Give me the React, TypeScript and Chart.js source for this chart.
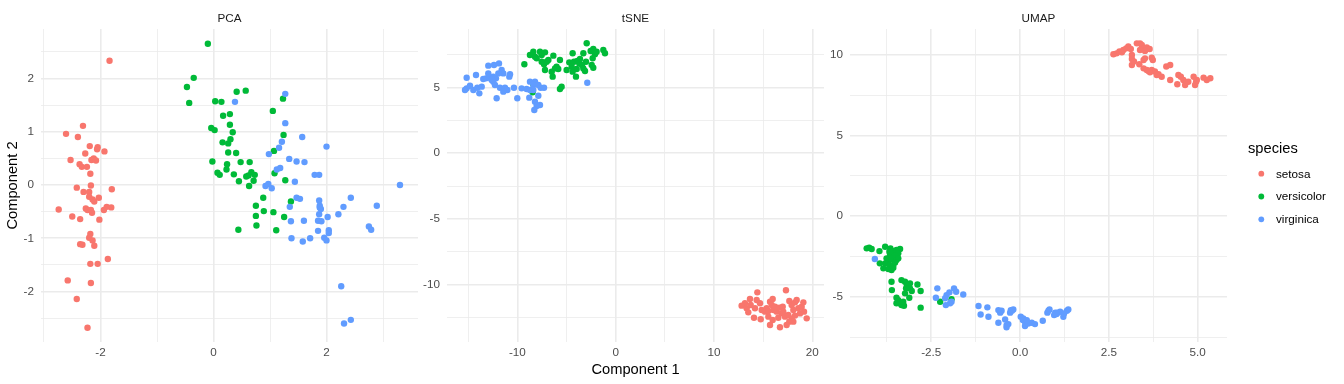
import React, { useEffect, useRef } from "react";
import { Chart, registerables } from "chart.js";

Chart.register(...registerables);

// ---------------- data ----------------
const SPECIES = ["setosa", "versicolor", "virginica"];
const SPECIES_COLORS = ["#F8766D", "#00BA38", "#619CFF"];
const FACETS = ["PCA", "tSNE", "UMAP"];
const X_TITLE = "Component 1";
const Y_TITLE = "Component 2";
const LEGEND_TITLE = "species";

const PCA_SETOSA: [number, number][] = [
  [-1.84, 2.33], [-2.31, 1.11], [-2.61, 0.96], [-2.40, 0.90], [-2.19, 0.73], [-2.05, 0.71], [-2.06, 0.67],
  [-1.93, 0.63], [-2.27, 0.59], [-2.53, 0.47], [-2.16, 0.47], [-2.12, 0.50], [-2.08, 0.46], [-2.37, 0.39],
  [-2.33, 0.34], [-2.24, 0.34], [-2.18, 0.21], [-2.17, -0.01], [-2.42, -0.05], [-2.30, -0.13], [-2.20, -0.13],
  [-1.80, -0.08], [-2.20, -0.22], [-2.14, -0.27], [-2.11, -0.31], [-2.03, -0.24], [-2.74, -0.46], [-2.26, -0.44],
  [-2.23, -0.47], [-2.17, -0.47], [-2.15, -0.52], [-1.94, -0.47], [-1.89, -0.41], [-1.81, -0.42], [-2.50, -0.59],
  [-2.36, -0.64], [-2.02, -0.65], [-2.18, -0.92], [-2.20, -0.99], [-2.14, -1.04], [-2.36, -1.11], [-2.32, -1.12],
  [-2.11, -1.14], [-1.87, -1.39], [-2.18, -1.48], [-2.05, -1.48], [-2.58, -1.79], [-2.17, -1.84], [-2.42, -2.14],
  [-2.23, -2.68],
];
const PCA_VERSICOLOR: [number, number][] = [
  [-0.10, 2.65], [-0.35, 2.01], [-0.47, 1.84], [-0.43, 1.54], [0.41, 1.75], [0.57, 1.77], [0.03, 1.57],
  [0.14, 1.56], [1.23, 1.62], [1.05, 1.39], [0.17, 1.30], [0.29, 1.33], [0.29, 1.13], [-0.04, 1.07],
  [0.02, 1.03], [0.34, 0.99], [1.24, 0.94], [0.16, 0.80], [0.26, 0.78], [0.30, 0.86], [0.26, 0.61],
  [0.40, 0.60], [1.07, 0.64], [-0.02, 0.44], [0.24, 0.39], [0.48, 0.43], [0.64, 0.43], [0.23, 0.29],
  [0.07, 0.23], [0.11, 0.19], [0.36, 0.20], [0.67, 0.24], [0.73, 0.19], [0.58, 0.16], [1.08, 0.22],
  [0.45, 0.07], [0.71, 0.08], [0.63, -0.02], [1.27, 0.09], [0.88, -0.24], [1.37, -0.31], [0.75, -0.39],
  [0.89, -0.49], [1.06, -0.51], [0.75, -0.58], [1.25, -0.60], [0.76, -0.76], [0.44, -0.84], [1.11, -0.85],
  [0.62, 0.18],
];
const PCA_VIRGINICA: [number, number][] = [
  [0.38, 1.56], [1.27, 1.71], [1.27, 1.16], [1.57, 0.90], [1.21, 0.81], [1.16, 0.70], [0.98, 0.58],
  [2.00, 0.72], [1.34, 0.49], [1.47, 0.44], [1.61, 0.43], [1.12, 0.29], [1.18, 0.32], [1.79, 0.19],
  [1.87, 0.19], [1.44, 0.06], [0.92, -0.02], [0.97, 0.02], [1.03, -0.06], [3.30, 0.00], [1.47, -0.24],
  [1.53, -0.26], [1.35, -0.41], [1.87, -0.29], [1.88, -0.39], [1.88, -0.42], [2.43, -0.24], [2.30, -0.41],
  [2.89, -0.39], [1.87, -0.55], [2.02, -0.60], [2.21, -0.55], [1.37, -0.68], [1.60, -0.67], [1.85, -0.67],
  [1.91, -0.68], [1.85, -0.86], [2.04, -0.85], [2.04, -0.90], [2.75, -0.78], [2.79, -0.84], [1.38, -1.00],
  [1.58, -1.06], [1.71, -1.00], [1.96, -0.99], [2.00, -1.04], [2.26, -1.90], [2.31, -2.60], [2.43, -2.53],
  [1.90, -0.45],
];

const TSNE_SETOSA: [number, number][] = [
  [14.41, -10.60], [17.32, -10.44], [13.66, -11.10], [13.15, -11.43], [12.81, -11.61], [13.32, -11.81],
  [13.49, -12.12], [14.17, -11.81], [14.34, -11.18], [14.68, -11.43], [14.85, -11.94], [15.36, -11.81],
  [15.70, -11.31], [15.97, -11.10], [15.87, -11.56], [16.04, -11.94], [16.38, -12.07], [16.65, -11.76],
  [16.99, -11.69], [16.88, -12.20], [17.22, -12.45], [17.66, -11.26], [17.90, -11.56], [18.24, -11.36],
  [18.41, -11.18], [18.58, -11.81], [18.92, -11.69], [19.09, -11.36], [19.16, -12.07], [18.75, -12.20],
  [18.24, -12.37], [17.90, -12.58], [17.66, -12.83], [17.39, -13.08], [18.07, -12.83], [17.56, -12.32],
  [14.07, -12.53], [14.75, -12.65], [15.53, -12.45], [15.97, -12.70], [15.70, -13.08], [16.71, -13.26],
  [19.43, -12.58], [16.54, -12.53], [15.19, -12.07], [16.21, -11.69], [17.05, -12.07], [15.53, -12.02],
  [13.73, -11.56], [18.07, -11.94],
];
const TSNE_VERSICOLOR: [number, number][] = [
  [-9.29, 6.77], [-8.72, 7.48], [-8.38, 7.73], [-8.21, 7.35], [-7.70, 7.73], [-7.53, 7.48], [-7.19, 7.68],
  [-7.02, 6.97], [-7.29, 6.77], [-6.85, 7.10], [-6.34, 7.43], [-6.01, 6.59], [-5.67, 7.10], [-6.17, 6.46],
  [-5.84, 6.41], [-6.41, 5.83], [-7.19, 6.34], [-5.50, 5.07], [-5.67, 4.89], [-8.38, 5.25], [-8.45, 4.64],
  [-4.38, 7.61], [-4.72, 6.92], [-4.24, 6.97], [-3.90, 7.02], [-3.63, 7.17], [-3.29, 7.61], [-2.95, 8.37],
  [-2.55, 7.78], [-2.28, 7.94], [-2.11, 7.53], [-2.34, 7.23], [-2.44, 6.72], [-2.28, 6.51], [-3.02, 6.97],
  [-3.43, 6.72], [-3.97, 6.41], [-4.38, 6.21], [-4.04, 5.83], [-3.12, 6.26], [-1.26, 7.86], [-1.09, 7.61],
  [-1.94, 7.73], [-3.29, 6.46], [-3.70, 6.84], [-4.99, 6.34], [-4.48, 6.59], [-8.04, 7.23], [-7.53, 6.97],
  [-6.51, 6.21],
];
const TSNE_VIRGINICA: [number, number][] = [
  [-15.16, 5.75], [-14.21, 5.96], [-12.96, 6.67], [-12.38, 6.72], [-11.87, 6.84], [-11.60, 6.34],
  [-11.43, 6.08], [-13.19, 5.70], [-12.79, 5.75], [-12.45, 5.83], [-12.18, 5.70], [-10.82, 5.83],
  [-10.75, 6.01], [-15.16, 4.94], [-15.33, 4.81], [-14.82, 5.14], [-14.48, 4.81], [-14.08, 4.99],
  [-13.63, 5.07], [-13.87, 4.56], [-12.45, 5.45], [-12.28, 5.19], [-11.77, 4.99], [-11.26, 4.99],
  [-11.02, 4.81], [-11.43, 4.69], [-10.35, 4.99], [-12.11, 4.18], [-10.01, 4.18], [-12.96, 6.08],
  [-12.62, 5.57], [-13.47, 5.65], [-11.94, 6.08], [-8.72, 5.45], [-8.21, 5.45], [-8.38, 5.19],
  [-7.87, 5.19], [-7.63, 4.99], [-7.29, 4.99], [-9.06, 4.89], [-8.72, 4.81], [-8.38, 4.81],
  [-8.79, 4.23], [-7.87, 4.38], [-8.21, 3.92], [-7.70, 3.67], [-8.04, 3.59], [-8.28, 3.29],
  [-9.57, 4.94], [-2.89, 5.37],
];

const UMAP_SETOSA: [number, number][] = [
  [2.72, 10.10], [2.80, 10.21], [2.87, 10.17], [2.91, 10.31], [2.99, 10.41], [3.05, 10.52], [3.12, 10.37],
  [3.29, 10.72], [3.38, 10.72], [3.43, 10.62], [3.48, 10.41], [3.57, 10.46], [3.65, 10.37], [3.38, 10.31],
  [3.52, 10.25], [3.15, 10.00], [3.15, 9.75], [3.15, 9.38], [3.48, 9.69], [3.52, 9.79], [3.71, 9.83],
  [3.74, 9.69], [3.36, 9.42], [3.48, 9.17], [3.57, 9.07], [3.62, 9.01], [3.71, 9.07], [3.80, 8.97],
  [3.90, 8.80], [3.99, 8.65], [4.12, 9.28], [4.23, 9.38], [4.23, 8.45], [4.46, 8.76], [4.53, 8.65],
  [4.43, 8.18], [4.60, 8.45], [4.65, 8.14], [4.74, 8.34], [4.89, 8.65], [4.96, 8.34], [4.93, 8.14],
  [4.98, 8.45], [5.17, 8.59], [5.26, 8.45], [5.36, 8.55], [3.85, 8.76], [3.66, 8.92], [2.63, 10.04],
  [3.21, 9.59],
];
const UMAP_VERSICOLOR: [number, number][] = [
  [-4.32, -2.00], [-4.25, -1.96], [-4.18, -2.04], [-3.96, -2.17], [-3.80, -1.90], [-3.65, -2.00],
  [-3.57, -2.17], [-3.48, -2.10], [-3.38, -2.04], [-3.43, -2.31], [-3.52, -2.46], [-3.66, -2.41],
  [-3.76, -2.62], [-3.71, -2.79], [-3.62, -2.66], [-3.48, -2.73], [-3.43, -2.62], [-3.80, -2.93],
  [-3.95, -2.93], [-3.66, -3.04], [-3.57, -3.04], [-3.85, -3.24], [-3.71, -3.28], [-3.62, -3.35],
  [-3.57, -3.20], [-3.62, -4.07], [-3.34, -3.97], [-3.24, -4.07], [-3.19, -4.28], [-3.10, -4.17],
  [-2.89, -4.24], [-3.61, -4.59], [-3.21, -4.48], [-3.05, -4.65], [-2.80, -4.65], [-3.24, -4.79],
  [-3.12, -5.06], [-3.48, -5.06], [-3.43, -5.21], [-3.38, -5.41], [-3.48, -5.41], [-3.34, -5.52],
  [-3.27, -5.56], [-2.80, -5.68], [-2.25, -5.31], [-1.93, -5.15], [-3.68, -2.21], [-3.52, -2.87],
  [-3.29, -5.31], [-3.10, -4.48],
];
const UMAP_VIRGINICA: [number, number][] = [
  [-4.09, -2.66], [-2.33, -4.48], [-2.37, -5.06], [-2.07, -4.90], [-1.86, -4.48], [-1.80, -4.69],
  [-1.99, -4.73], [-2.11, -5.10], [-1.93, -5.31], [-2.09, -5.52], [-1.97, -5.41], [-1.60, -4.86],
  [-1.17, -5.58], [-0.92, -5.66], [-1.11, -6.10], [-0.89, -6.24], [-0.61, -5.83], [-0.56, -5.99],
  [-0.26, -5.83], [-0.19, -5.79], [-0.28, -5.99], [-0.42, -6.41], [-0.61, -6.62], [-0.33, -6.70],
  [-0.38, -6.90], [0.02, -6.24], [0.09, -6.35], [0.14, -6.55], [0.14, -6.82], [0.23, -6.66],
  [0.33, -6.62], [0.42, -6.70], [0.64, -6.49], [0.77, -5.99], [0.83, -5.79], [0.96, -6.14],
  [1.05, -5.99], [1.13, -5.93], [1.22, -6.24], [1.32, -5.87], [1.36, -5.79], [1.03, -6.08],
  [0.08, -6.45], [0.19, -6.45], [-0.52, -5.87], [-0.23, -5.87], [0.80, -5.87], [0.99, -5.99],
  [1.24, -6.04], [-0.38, -6.76],
];

// axis limits and ticks
const PCA_X_LIMITS = [-3.053, 3.619];
const PCA_Y_LIMITS = [-2.946, 2.927];
const PCA_X_MAJOR = [-2, 0, 2];
const PCA_X_LABELS = ["-2", "0", "2"];
const PCA_X_MINOR = [-3, -1, 1, 3];
const PCA_Y_MAJOR = [-2, -1, 0, 1, 2];
const PCA_Y_LABELS = ["-2", "-1", "0", "1", "2"];
const PCA_Y_MINOR = [-2.5, -1.5, -0.5, 0.5, 1.5, 2.5];

const TSNE_X_LIMITS = [-17.16, 21.19];
const TSNE_Y_LIMITS = [-14.38, 9.46];
const TSNE_X_MAJOR = [-10, 0, 10, 20];
const TSNE_X_LABELS = ["-10", "0", "10", "20"];
const TSNE_X_MINOR = [-15, -5, 5, 15];
const TSNE_Y_MAJOR = [-10, -5, 0, 5];
const TSNE_Y_LABELS = ["-10", "-5", "0", "5"];
const TSNE_Y_MINOR = [-12.5, -7.5, -2.5, 2.5, 7.5];

const UMAP_X_LIMITS = [-4.79, 5.83];
const UMAP_Y_LIMITS = [-7.81, 11.61];
const UMAP_X_MAJOR = [-2.5, 0, 2.5, 5];
const UMAP_X_LABELS = ["-2.5", "0.0", "2.5", "5.0"];
const UMAP_X_MINOR = [-3.75, -1.25, 1.25, 3.75];
const UMAP_Y_MAJOR = [-5, 0, 5, 10];
const UMAP_Y_LABELS = ["-5", "0", "5", "10"];
const UMAP_Y_MINOR = [-7.5, -2.5, 2.5, 7.5];

// ---------------- styling / layout ----------------
const FONT = '"Liberation Sans", Arial, Helvetica, sans-serif';
const H = 384;
const PANEL_TOP = 29;
const X_AXIS_H = 42;
const GRID = "#EBEBEB";

const facetTitlePlugin = {
  id: "facetTitle",
  afterDraw(chart: any, _args: any, opts: any) {
    if (!opts || !opts.text) return;
    const { ctx, chartArea } = chart;
    ctx.save();
    ctx.fillStyle = "#1A1A1A";
    ctx.font = `11.7px ${FONT}`;
    ctx.textAlign = "center";
    ctx.textBaseline = "middle";
    ctx.fillText(opts.text, (chartArea.left + chartArea.right) / 2, opts.y);
    ctx.restore();
  },
};

const speciesLegendPlugin = {
  id: "speciesLegend",
  afterDraw(chart: any, _args: any, opts: any) {
    if (!opts || !opts.show) return;
    const ctx = chart.ctx;
    ctx.save();
    ctx.fillStyle = "#000000";
    ctx.font = `14.7px ${FONT}`;
    ctx.textAlign = "left";
    ctx.textBaseline = "alphabetic";
    ctx.fillText(opts.title, opts.titleX, opts.titleY);
    ctx.font = `11.7px ${FONT}`;
    chart.data.datasets.forEach((ds: any, i: number) => {
      const cy = opts.firstY + i * opts.step;
      ctx.fillStyle = ds.backgroundColor;
      ctx.beginPath();
      ctx.arc(opts.dotX, cy, 2.9, 0, Math.PI * 2);
      ctx.fill();
      ctx.fillStyle = "#000000";
      ctx.fillText(ds.label, opts.labelX, cy + 3.8);
    });
    ctx.restore();
  },
};

function makeScale(
  limits: number[],
  major: number[],
  labels: string[],
  minor: number[],
  horizontal: boolean,
  size: number,
  title?: any
) {
  const all = [...major, ...minor].sort((a, b) => a - b);
  return {
    type: "linear",
    min: limits[0],
    max: limits[1],
    bounds: "data",
    afterBuildTicks: (s: any) => {
      s.ticks = all.map((v) => ({ value: v }));
    },
    afterFit: (s: any) => {
      if (horizontal) s.height = size;
      else s.width = size;
    },
    ticks: {
      autoSkip: false,
      maxRotation: 0,
      minRotation: 0,
      padding: horizontal ? 4 : 7,
      color: "#4D4D4D",
      font: { family: FONT, size: 11.7 },
      callback: (v: number) => {
        const i = major.indexOf(v);
        return i >= 0 ? labels[i] : "";
      },
    },
    grid: {
      drawTicks: false,
      color: GRID,
      lineWidth: (c: any) => (c.tick && major.includes(c.tick.value) ? 1.6 : 0.8),
    },
    border: { display: false },
    title: title || { display: false },
  };
}

function buildDatasets(series: [number, number][][]) {
  return SPECIES.map((name, i) => ({
    label: name,
    data: series[i].map(([x, y]) => ({ x, y })),
    backgroundColor: SPECIES_COLORS[i],
    pointBackgroundColor: SPECIES_COLORS[i],
    pointBorderWidth: 0,
    borderWidth: 0,
    pointRadius: 3.2,
    pointHoverRadius: 3.2,
    order: SPECIES.length - i,
  }));
}

const AXIS_TITLE_FONT = { family: FONT, size: 14.7, lineHeight: 1.2 };

const FACET_SPECS = [
  {
    name: FACETS[0],
    left: 0,
    width: 418,
    yWidth: 41,
    padRight: 0,
    series: [PCA_SETOSA, PCA_VERSICOLOR, PCA_VIRGINICA],
    x: () => makeScale(PCA_X_LIMITS, PCA_X_MAJOR, PCA_X_LABELS, PCA_X_MINOR, true, X_AXIS_H),
    y: () =>
      makeScale(PCA_Y_LIMITS, PCA_Y_MAJOR, PCA_Y_LABELS, PCA_Y_MINOR, false, 41, {
        display: true,
        text: Y_TITLE,
        color: "#000000",
        font: AXIS_TITLE_FONT,
        padding: { top: 4.5, bottom: 0 },
      }),
    legend: false,
  },
  {
    name: FACETS[1],
    left: 418,
    width: 406,
    yWidth: 29,
    padRight: 0,
    series: [TSNE_SETOSA, TSNE_VERSICOLOR, TSNE_VIRGINICA],
    x: () =>
      makeScale(TSNE_X_LIMITS, TSNE_X_MAJOR, TSNE_X_LABELS, TSNE_X_MINOR, true, X_AXIS_H, {
        display: true,
        text: X_TITLE,
        color: "#000000",
        font: AXIS_TITLE_FONT,
        padding: { top: 0, bottom: 5.7 },
      }),
    y: () => makeScale(TSNE_Y_LIMITS, TSNE_Y_MAJOR, TSNE_Y_LABELS, TSNE_Y_MINOR, false, 29),
    legend: false,
  },
  {
    name: FACETS[2],
    left: 822,
    width: 522,
    yWidth: 28,
    padRight: 117,
    series: [UMAP_SETOSA, UMAP_VERSICOLOR, UMAP_VIRGINICA],
    x: () => makeScale(UMAP_X_LIMITS, UMAP_X_MAJOR, UMAP_X_LABELS, UMAP_X_MINOR, true, X_AXIS_H),
    y: () => makeScale(UMAP_Y_LIMITS, UMAP_Y_MAJOR, UMAP_Y_LABELS, UMAP_Y_MINOR, false, 28),
    legend: true,
  },
];

export default function App() {
  const refs = [useRef<HTMLCanvasElement>(null), useRef<HTMLCanvasElement>(null), useRef<HTMLCanvasElement>(null)];

  useEffect(() => {
    const charts: Chart[] = [];
    FACET_SPECS.forEach((spec, idx) => {
      const canvas = refs[idx].current;
      if (!canvas) return;
      const chart = new Chart(canvas, {
        type: "scatter",
        data: { datasets: buildDatasets(spec.series) as any },
        options: {
          responsive: false,
          animation: false,
          events: [],
          layout: { padding: { top: PANEL_TOP, right: spec.padRight, left: 0, bottom: 0 }, autoPadding: false } as any,
          plugins: {
            legend: { display: false },
            tooltip: { enabled: false },
            facetTitle: { text: spec.name, y: 19 },
            speciesLegend: {
              show: spec.legend,
              title: LEGEND_TITLE,
              titleX: 426,
              titleY: 153,
              dotX: 439.3,
              labelX: 454,
              firstY: 173.7,
              step: 22.8,
            },
          } as any,
          scales: { x: spec.x() as any, y: spec.y() as any },
        },
        plugins: [facetTitlePlugin, speciesLegendPlugin],
      });
      charts.push(chart);
    });
    return () => charts.forEach((c) => c.destroy());
  }, []);

  return (
    <div style={{ position: "fixed", left: 0, top: 0, width: 1344, height: H, background: "#ffffff" }}>
      {FACET_SPECS.map((spec, idx) => (
        <canvas
          key={spec.name}
          ref={refs[idx]}
          width={spec.width}
          height={H}
          style={{ position: "absolute", left: spec.left, top: 0, width: spec.width, height: H }}
        />
      ))}
    </div>
  );
}
